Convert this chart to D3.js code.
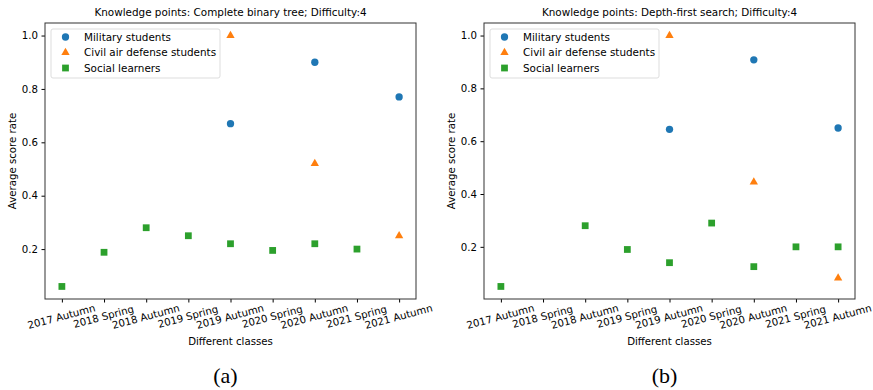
<!DOCTYPE html>
<html>
<head>
<meta charset="utf-8">
<script src="https://cdn.jsdelivr.net/npm/d3@7"></script>
<style>
body { margin: 0; background: #fff; }
</style>
</head>
<body>
<script>
// classes on the x axis
var classes = ["2017 Autumn", "2018 Spring", "2018 Autumn", "2019 Spring", "2019 Autumn",
               "2020 Spring", "2020 Autumn", "2021 Spring", "2021 Autumn"];
var seriesNames = ["Military students", "Civil air defense students", "Social learners"];
var yTicks = [0.2, 0.4, 0.6, 0.8, 1.0];

// panel (a): complete binary tree
var titleA = "Knowledge points: Complete binary tree; Difficulty:4";
var militaryA = [null, null, null, null, 0.67, null, 0.90, null, 0.77];
var civilA    = [null, null, null, null, 1.00, null, 0.52, null, 0.25];
var socialA   = [0.06, 0.188, 0.28, 0.25, 0.22, 0.195, 0.22, 0.20, null];

// panel (b): depth-first search
var titleB = "Knowledge points: Depth-first search; Difficulty:4";
var militaryB = [null, null, null, null, 0.645, null, 0.908, null, 0.65];
var civilB    = [null, null, null, null, 1.00, null, 0.445, null, 0.082];
var socialB   = [0.05, null, 0.28, 0.19, 0.14, 0.29, 0.125, 0.20, 0.20];

var colors = ["#1f77b4", "#ff7f0e", "#2ca02c"];
var shapes = [d3.symbolCircle, d3.symbolTriangle, d3.symbolSquare];
var symSize = [42, 30, 46];
var sans = "'DejaVu Sans', sans-serif";

var svg = d3.select("body").append("svg")
  .attr("width", 873)
  .attr("height", 390);

function draw(left, right, title, series, caption) {
  var top = 23, bottom = 299;

  // y domain with matplotlib style 5% margins
  var all = [];
  series.forEach(function(s) { s.forEach(function(v) { if (v != null) all.push(v); }); });
  var lo = d3.min(all), hi = d3.max(all), pad = (hi - lo) * 0.05;

  var span = right - left;
  var x = d3.scalePoint().domain(classes).range([span * 0.0455, span * 0.9545]).padding(0);
  var y = d3.scaleLinear().domain([lo - pad, hi + pad]).range([bottom - top, 0]);

  var g = svg.append("g")
    .attr("transform", "translate(" + left + "," + top + ")")
    .style("font-family", sans);

  g.append("text")
    .attr("x", span / 2)
    .attr("y", -7)
    .attr("text-anchor", "middle")
    .attr("font-size", 10.4)
    .text(title);

  // x axis
  var xa = g.append("g")
    .attr("transform", "translate(0," + (bottom - top) + ")")
    .call(d3.axisBottom(x).tickSize(3.5).tickPadding(3));
  xa.select(".domain").remove();
  xa.selectAll("text")
    .attr("font-size", 10.2)
    .style("font-family", sans)
    .attr("fill", "#000")
    .attr("text-anchor", "middle")
    .attr("y", 0)
    .attr("dy", 0)
    .attr("transform", "translate(0,21) rotate(-15)");

  // y axis
  var ya = g.append("g")
    .call(d3.axisLeft(y).tickValues(yTicks).tickFormat(d3.format(".1f")).tickSize(3.5).tickPadding(3.5));
  ya.select(".domain").remove();
  ya.selectAll("text").attr("font-size", 10.2).style("font-family", sans).attr("fill", "#000");

  // frame
  g.append("rect")
    .attr("width", span)
    .attr("height", bottom - top)
    .attr("fill", "none")
    .attr("stroke", "#333")
    .attr("stroke-width", 1);

  // points
  series.forEach(function(s, i) {
    var pts = classes.map(function(c, j) { return {c: c, v: s[j]}; })
      .filter(function(d) { return d.v != null; });
    g.selectAll(".p" + i)
      .data(pts)
      .enter().append("path")
      .attr("class", "p" + i)
      .attr("transform", function(d) { return "translate(" + x(d.c) + "," + y(d.v) + ")"; })
      .attr("d", d3.symbol().type(shapes[i]).size(symSize[i]))
      .attr("fill", colors[i]);
  });

  // legend
  var lg = g.append("g").attr("transform", "translate(6,6)");
  lg.append("rect")
    .attr("width", 169)
    .attr("height", 49)
    .attr("rx", 2)
    .attr("fill", "#fff")
    .attr("fill-opacity", 0.8)
    .attr("stroke", "#ddd");
  seriesNames.forEach(function(n, i) {
    lg.append("path")
      .attr("transform", "translate(14.5," + (8 + i * 15.5) + ")")
      .attr("d", d3.symbol().type(shapes[i]).size(symSize[i]))
      .attr("fill", colors[i]);
    lg.append("text")
      .attr("x", 33)
      .attr("y", 8 + i * 15.5)
      .attr("dy", "0.35em")
      .attr("font-size", 10.4)
      .text(n);
  });

  // axis labels
  g.append("text")
    .attr("x", span / 2)
    .attr("y", 345 - top)
    .attr("text-anchor", "middle")
    .attr("font-size", 10.2)
    .text("Different classes");
  g.append("text")
    .attr("transform", "translate(" + (-29) + "," + ((bottom - top) / 2) + ") rotate(-90)")
    .attr("text-anchor", "middle")
    .attr("font-size", 10.2)
    .text("Average score rate");

  // caption
  svg.append("text")
    .attr("x", (left + right) / 2 - 5)
    .attr("y", 383)
    .attr("text-anchor", "middle")
    .style("font-family", "'Liberation Serif', 'Times New Roman', serif")
    .attr("font-size", 22)
    .text(caption);
}

draw(45, 416, titleA, [militaryA, civilA, socialA], "(a)");
draw(484, 855, titleB, [militaryB, civilB, socialB], "(b)");
</script>
</body>
</html>
